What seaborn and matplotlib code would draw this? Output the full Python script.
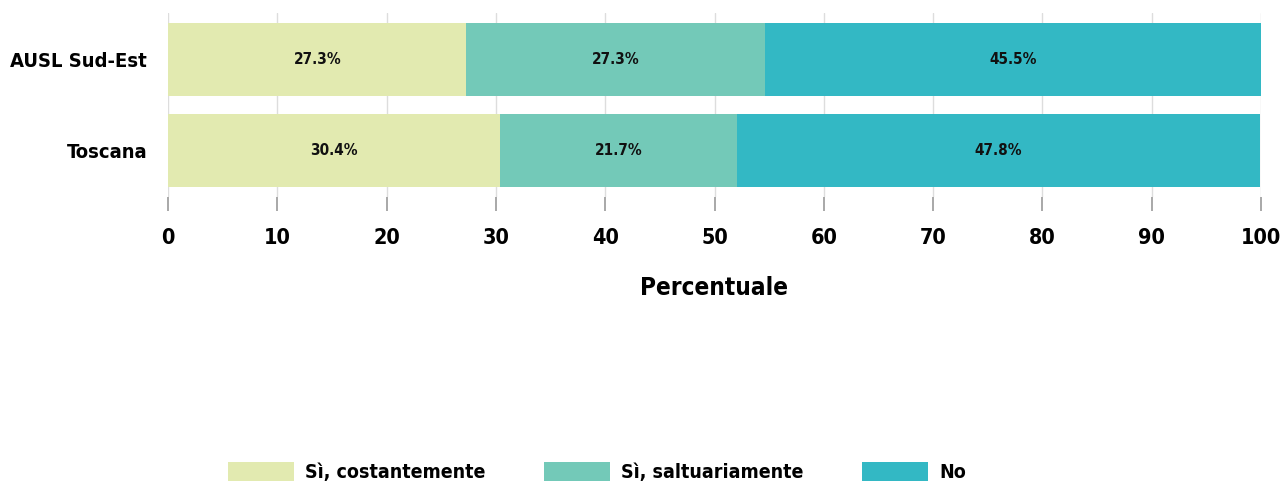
import matplotlib
matplotlib.use("Agg")
import matplotlib.pyplot as plt
import seaborn as sns
import pandas as pd
from matplotlib.patches import Patch

regions = ["AUSL Sud-Est", "Toscana"]
series = ["Sì, costantemente", "Sì, saltuariamente", "No"]
si_cost = [27.3, 30.4]
si_salt = [27.3, 21.7]
no_vals = [45.5, 47.8]
colors = ["#e2eab0", "#73c9b8", "#33b8c4"]
xticks = [0, 10, 20, 30, 40, 50, 60, 70, 80, 90, 100]

sns.set_theme(style="white")
plt.rcParams['font.family'] = ['DejaVu Sans']
plt.rcParams['font.stretch'] = 'condensed'
plt.rcParams['text.color'] = 'black'
plt.rcParams['axes.labelcolor'] = 'black'
plt.rcParams['xtick.color'] = 'black'
plt.rcParams['ytick.color'] = 'black'

fig = plt.figure(figsize=(12.81, 4.84), dpi=100)
ax = fig.add_axes([168/1281, 1-196.5/484, (1261-168)/1281, (196.5-13.5)/484])

df = pd.DataFrame({"region": regions, "c1": si_cost, "c2": si_salt, "c3": no_vals})
df["s1"] = df["c1"]
df["s2"] = df["c1"] + df["c2"]
df["s3"] = df["s2"] + df["c3"]

# draw totals back to front so each segment shows
for col, c in zip(["s3", "s2", "s1"], colors[::-1]):
    sns.barplot(data=df, y="region", x=col, color=c, orient="h", ax=ax,
                width=0.8, saturation=1, edgecolor="none", linewidth=0, zorder=2)

lefts = [0.0, 0.0]
for v in [si_cost, si_salt, no_vals]:
    for i, x in enumerate(v):
        ax.text(lefts[i] + x / 2, i, f"{x:.1f}%", ha="center", va="center",
                fontsize=11, fontweight="bold", color="#111111", zorder=3)
    lefts = [l + x for l, x in zip(lefts, v)]

ax.set_ylim(1.5, -0.5)
ax.set_xlim(0, 100)
ax.set_xticks(xticks)
ax.set_xticklabels([str(t) for t in xticks], fontsize=15.5, fontweight="bold")
ax.tick_params(axis="x", length=10, width=1.2, color="#999999", pad=13, direction="out", bottom=True)
ax.tick_params(axis="y", length=0, pad=15)
for lab in ax.get_yticklabels():
    lab.set_fontsize(14.5)
    lab.set_fontweight("bold")
ax.xaxis.grid(True, color="#dddddd", linewidth=1, zorder=0)
ax.set_axisbelow(True)
ax.yaxis.grid(False)
for s in ax.spines.values():
    s.set_visible(False)
ax.set_xlabel("Percentuale", fontsize=17.5, fontweight="bold", labelpad=20)
ax.set_ylabel("")

handles = [Patch(facecolor=c, edgecolor="none") for c in colors]
fig.legend(handles, series, loc="center", bbox_to_anchor=(0.466, 0.025), ncol=3,
           frameon=False, handlelength=3.4, handleheight=1.15, handletextpad=0.57,
           columnspacing=3.0, prop={"size": 14, "weight": "bold", "stretch": "condensed"})

fig.savefig("out.png", dpi=100)
